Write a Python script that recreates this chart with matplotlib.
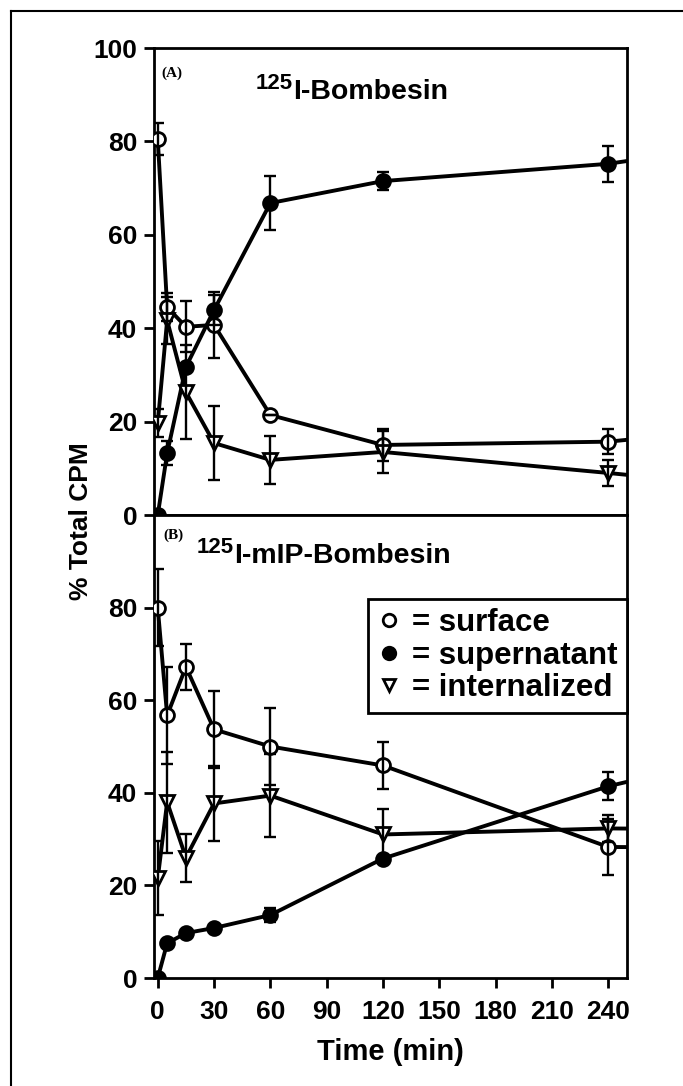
import matplotlib
matplotlib.use("Agg")
import matplotlib.pyplot as plt
from matplotlib.lines import Line2D
import numpy as np

# ---------------- data ----------------
time_min = [0, 5, 15, 30, 60, 120, 240, 360]

# Panel A: 125I-Bombesin
a_surface = [80.5, 44.5, 40.3, 40.7, 21.4, 15.0, 15.7, 20.5]
a_surface_err = [3.5, 3.0, 5.5, 7.0, 0.0, 3.5, 2.7, 0.0]
a_supernatant = [0.0, 13.2, 31.7, 43.9, 66.8, 71.5, 75.2, 82.4]
a_supernatant_err = [0.0, 2.6, 0.0, 3.3, 5.8, 2.0, 3.8, 0.0]
a_internalized = [19.7, 41.7, 26.3, 15.4, 11.8, 13.5, 9.0, 4.2]
a_internalized_err = [3.0, 5.0, 10.0, 8.0, 5.2, 4.5, 2.7, 0.0]

# Panel B: 125I-mIP-Bombesin
b_surface = [80.0, 56.7, 67.2, 53.7, 50.0, 45.9, 28.3, 28.0]
b_surface_err = [8.4, 10.5, 5.0, 8.3, 8.4, 5.0, 6.0, 0.0]
b_supernatant = [0.0, 7.5, 9.7, 10.8, 13.6, 25.8, 41.4, 53.0]
b_supernatant_err = [0.0, 0.0, 0.0, 0.0, 1.5, 0.0, 3.0, 0.0]
b_internalized = [21.5, 38.0, 26.0, 37.7, 39.4, 31.0, 32.3, 32.0]
b_internalized_err = [8.0, 10.9, 5.2, 8.1, 9.0, 5.6, 3.0, 0.0]

x_ticks = [0, 30, 60, 90, 120, 150, 180, 210, 240]
a_yticks = [0, 20, 40, 60, 80, 100]
b_yticks = [0, 20, 40, 60, 80]
legend_labels = ["= surface", "= supernatant", "= internalized"]

# ---------------- style ----------------
FONT = "Liberation Sans"
plt.rcParams["font.family"] = [FONT, "DejaVu Sans"]
plt.rcParams["font.weight"] = "bold"

W, H = 683, 1086
fig = plt.figure(figsize=(W / 100, H / 100), dpi=100)


def fx(px):
    return px / W


def fy(py):
    return 1 - py / H


left, right = 154, 627
axA = fig.add_axes([fx(left), fy(515), fx(right) - fx(left), fy(48) - fy(515)])
axB = fig.add_axes([fx(left), fy(978), fx(right) - fx(left), fy(515) - fy(978)])

LW = 2.8
MS = 10


def draw_series(ax, y, err, marker, filled):
    ax.plot(time_min, y, color="k", lw=LW, marker=marker, ms=MS,
            mfc="k" if filled else "white", mec="k", mew=2.0,
            clip_on=True, zorder=3)
    ax.errorbar(time_min, y, yerr=err, fmt="none", ecolor="k",
                elinewidth=1.7, capsize=4.5, capthick=1.7, zorder=4)


for ax, sets in [
    (axA, [(a_surface, a_surface_err, "o", False),
           (a_supernatant, a_supernatant_err, "o", True),
           (a_internalized, a_internalized_err, "v", False)]),
    (axB, [(b_surface, b_surface_err, "o", False),
           (b_supernatant, b_supernatant_err, "o", True),
           (b_internalized, b_internalized_err, "v", False)]),
]:
    for y, e, m, f in sets:
        draw_series(ax, y, e, m, f)
    ax.set_xlim(-2, 250)
    ax.set_ylim(0, 100)
    for s in ax.spines.values():
        s.set_linewidth(2)
    ax.tick_params(axis="both", direction="out", length=7, width=2,
                   labelsize=19, pad=5)

axA.set_yticks(a_yticks)
axA.set_xticks([])
axB.set_yticks(b_yticks)
axB.set_xticks(x_ticks)
axB.tick_params(axis="x", pad=9)
for ax in (axA, axB):
    for lab in ax.get_xticklabels() + ax.get_yticklabels():
        lab.set_fontweight("bold")
        lab.set_fontsize(19)

axB.set_xlabel("Time (min)", fontsize=21, fontweight="bold", labelpad=10)
fig.text(fx(81), fy(521), "% Total CPM", rotation=90, fontsize=19,
         fontweight="bold", ha="center", va="center")

# panel labels / titles
fig.text(fx(161), fy(73), "(A)", fontsize=11, fontweight="bold",
         family="Liberation Serif", ha="left", va="center")
t1 = fig.text(fx(256), fy(73), "125", fontsize=16, fontweight="bold",
              ha="left", va="top")
axA.annotate("I-Bombesin", xy=(1, 0), xycoords=t1, xytext=(0, -8),
             textcoords="offset points", fontsize=20.5, fontweight="bold",
             ha="left", va="bottom")

fig.text(fx(163), fy(535), "(B)", fontsize=11, fontweight="bold",
         family="Liberation Serif", ha="left", va="center")
t2 = fig.text(fx(197), fy(537), "125", fontsize=16, fontweight="bold",
              ha="left", va="top")
axB.annotate("I-mIP-Bombesin", xy=(1, 0), xycoords=t2, xytext=(0, -8),
             textcoords="offset points", fontsize=20.5, fontweight="bold",
             ha="left", va="bottom")

# legend
handles = [
    Line2D([], [], ls="none", marker="o", ms=9, mfc="white", mec="k", mew=2),
    Line2D([], [], ls="none", marker="o", ms=9, mfc="k", mec="k", mew=2),
    Line2D([], [], ls="none", marker="v", ms=9, mfc="white", mec="k", mew=2),
]
leg = axB.legend(handles, legend_labels, loc="upper right",
                 bbox_to_anchor=(1.0, (978 - 599) / 463), borderaxespad=0,
                 fancybox=False, edgecolor="k", framealpha=1,
                 handlelength=0.7, handletextpad=0.4, borderpad=0.3,
                 labelspacing=0.08, prop={"family": FONT, "weight": "bold",
                                          "size": 22.5})
leg.get_frame().set_linewidth(2)

# outer frame (top and left)
fig.add_artist(Line2D([fx(11), fx(11)], [fy(11), 0], color="k", lw=1.5))
fig.add_artist(Line2D([fx(11), 1], [fy(11), fy(11)], color="k", lw=1.5))

fig.savefig("out.png", dpi=100)
